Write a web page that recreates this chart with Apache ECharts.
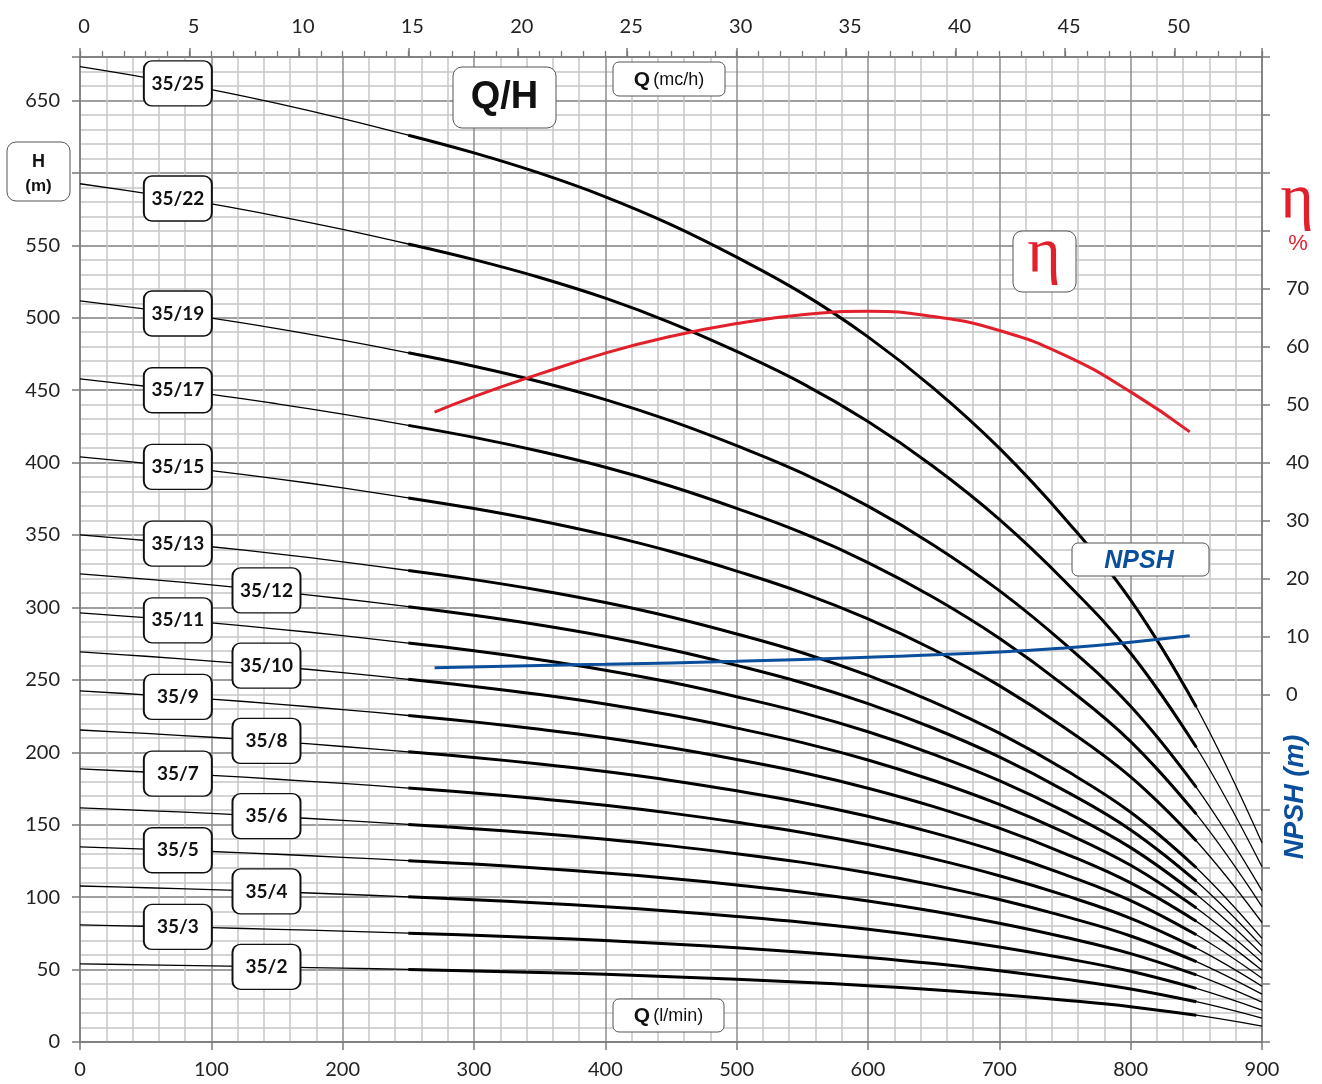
<!DOCTYPE html>
<html><head><meta charset="utf-8">
<script src="https://cdn.jsdelivr.net/npm/echarts@6/dist/echarts.min.js"></script>
<style>html,body{margin:0;padding:0;background:#fff}#c{width:1322px;height:1084px}</style>
</head><body><div id="c"></div>
<script>
// ---- data ----
const flowLpm = [0,50,100,150,200,250,300,350,400,450,500,550,600,650,700,750,800,850,900];
const head_35_2  = [53.9,53.3,52.6,51.8,51.0,50.1,49.1,48.0,46.7,45.1,43.3,41.3,38.9,36.1,32.8,28.9,24.4,18.5,11.0];
const head_35_3  = [80.8,79.9,78.9,77.8,76.5,75.1,73.7,72.0,70.0,67.7,65.0,62.0,58.4,54.2,49.2,43.4,36.6,27.8,16.5];
const head_35_4  = [107.7,106.5,105.2,103.7,102.0,100.2,98.2,96.0,93.4,90.3,86.7,82.7,77.9,72.2,65.6,57.8,48.8,37.0,22.0];
const head_35_5  = [134.7,133.2,131.5,129.6,127.5,125.2,122.8,120.0,116.7,112.9,108.4,103.4,97.4,90.3,82.0,72.3,61.0,46.3,27.5];
const head_35_6  = [161.6,159.8,157.8,155.5,153.0,150.2,147.3,143.9,140.0,135.4,130.0,124.0,116.8,108.3,98.4,86.7,73.2,55.5,33.0];
const head_35_7  = [188.5,186.4,184.1,181.4,178.5,175.3,171.9,167.9,163.4,158.0,151.7,144.7,136.3,126.4,114.8,101.2,85.4,64.8,38.5];
const head_35_8  = [215.4,213.0,210.4,207.4,204.0,200.3,196.4,191.9,186.7,180.6,173.4,165.4,155.8,144.4,131.2,115.6,97.6,74.0,44.0];
const head_35_9  = [242.4,239.7,236.7,233.3,229.5,225.4,221.0,215.9,210.1,203.1,195.0,186.0,175.2,162.5,147.6,130.1,109.8,83.3,49.5];
const head_35_10 = [269.3,266.3,263.0,259.2,255.0,250.4,245.5,239.9,233.4,225.7,216.7,206.7,194.7,180.5,164.0,144.5,122.0,92.5,55.0];
const head_35_11 = [296.2,292.9,289.3,285.1,280.5,275.4,270.1,263.9,256.7,248.3,238.4,227.4,214.2,198.6,180.4,159.0,134.2,101.8,60.5];
const head_35_12 = [323.2,319.6,315.6,311.0,306.0,300.5,294.6,287.9,280.1,270.8,260.0,248.0,233.6,216.6,196.8,173.4,146.4,111.0,66.0];
const head_35_13 = [350.1,346.2,341.9,337.0,331.5,325.5,319.2,311.9,303.4,293.4,281.7,268.7,253.1,234.7,213.2,187.9,158.6,120.3,71.5];
const head_35_15 = [404.0,399.5,394.5,388.8,382.5,375.6,368.3,359.9,350.1,338.6,325.1,310.1,292.1,270.8,246.0,216.8,183.0,138.8,82.5];
const head_35_17 = [457.8,452.7,447.1,440.6,433.5,425.7,417.4,407.8,396.8,383.7,368.4,351.4,331.0,306.9,278.8,245.7,207.4,157.3,93.5];
const head_35_19 = [511.7,506.0,499.7,492.5,484.5,475.8,466.5,455.8,443.5,428.8,411.7,392.7,369.9,343.0,311.6,274.6,231.8,175.8,104.5];
const head_35_22 = [592.5,585.9,578.6,570.2,561.0,550.9,540.1,527.8,513.5,496.5,476.7,454.7,428.3,397.1,360.8,317.9,268.4,203.5,121.0];
const head_35_25 = [673.3,665.8,657.5,648.0,637.5,626.0,613.8,599.8,583.5,564.3,541.8,516.8,486.8,451.3,410.0,361.3,305.0,231.3,137.5];

const curveNames = ['35/25','35/22','35/19','35/17','35/15','35/13','35/12','35/11','35/10','35/9','35/8','35/7','35/6','35/5','35/4','35/3','35/2'];
const curveHeads = [head_35_25,head_35_22,head_35_19,head_35_17,head_35_15,head_35_13,head_35_12,head_35_11,head_35_10,head_35_9,head_35_8,head_35_7,head_35_6,head_35_5,head_35_4,head_35_3,head_35_2];
const labelFlow  = [74.5,74.5,74.5,74.5,74.5,74.5,142,74.5,142,74.5,142,74.5,142,74.5,142,74.5,142];

const etaFlow = [270,300,350,400,450,500,550,600,650,700,750,800,845];
const etaPct  = [48.7,51.4,55.3,58.9,61.8,64.0,65.5,66.1,65.2,62.8,58.5,52.2,45.3];
const npshFlow = [270,350,400,500,600,700,750,800,845];
const npshM    = [4.6,5.0,5.2,5.7,6.4,7.3,8.0,9.0,10.1];

const bottomTickLabels = [0,100,200,300,400,500,600,700,800,900];
const etaTickLabels = [0,10,20,30,40,50,60,70];

// ---- styling ----
const FONT = 'Lato, "Noto Sans", sans-serif';
const SANS = '"Liberation Sans", Arial, sans-serif';
const RED = '#e2202c', BLUE = '#0b4f9c';
const AX = '#7a7a7a', DARK = '#8e8e8e', LIGHT = '#c6c6c6';
const boxPath = 'path://M8,0 H60 A8,8 0 0 1 68,8 V37 A8,8 0 0 1 60,45 H8 A8,8 0 0 1 0,37 V8 A8,8 0 0 1 8,0 Z';

function headAt(arr, q) {
  for (let i = 1; i < flowLpm.length; i++) {
    if (q <= flowLpm[i]) {
      const t = (q - flowLpm[i-1]) / (flowLpm[i] - flowLpm[i-1]);
      return arr[i-1] + t * (arr[i] - arr[i-1]);
    }
  }
  return arr[arr.length-1];
}

const series = [];
curveNames.forEach((name, k) => {
  const h = curveHeads[k];
  const pts = flowLpm.map((q, i) => [q, h[i]]);
  series.push({
    type: 'line', name: name + ' thin', data: pts, xAxisIndex: 0, yAxisIndex: 0,
    symbol: 'none', smooth: 0.4, silent: true, z: 3,
    lineStyle: { color: '#000', width: 1.3 },
    markPoint: {
      symbol: boxPath, symbolSize: [68, 45], silent: true, z: 8,
      itemStyle: { color: '#fff', borderColor: '#111', borderWidth: 1.6 },
      label: { show: true, position: 'inside', formatter: '{b}', fontFamily: FONT,
               fontSize: 19, fontWeight: 'bold', color: '#111' },
      data: [{ name: name, coord: [labelFlow[k], headAt(h, labelFlow[k])] }]
    }
  });
  series.push({
    type: 'line', name: name, data: pts.filter(p => p[0] >= 250 && p[0] <= 850),
    xAxisIndex: 0, yAxisIndex: 0, symbol: 'none', smooth: 0.4, silent: true, z: 4,
    lineStyle: { color: '#000', width: 3 }
  });
});
series.push({
  type: 'line', name: 'eta', data: etaFlow.map((q, i) => [q, etaPct[i]]),
  xAxisIndex: 0, yAxisIndex: 1, symbol: 'none', smooth: 0.5, silent: true, z: 6,
  lineStyle: { color: RED, width: 3 }
});
series.push({
  type: 'line', name: 'npsh', data: npshFlow.map((q, i) => [q, npshM[i]]),
  xAxisIndex: 0, yAxisIndex: 1, symbol: 'none', smooth: 0.5, silent: true, z: 6,
  lineStyle: { color: BLUE, width: 3 }
});

function rrect(x, y, w, h, r, stroke) {
  return { type: 'rect', z: 100, shape: { x, y, width: w, height: h, r },
           style: { fill: '#fff', stroke: stroke || '#555', lineWidth: 1 } };
}
function txt(x, y, text, font, fill, extra) {
  return Object.assign({ type: 'text', z: 101, x, y,
    style: { text, font, fill: fill || '#111', align: 'center', verticalAlign: 'middle' } }, extra || {});
}

const option = {
  animation: false,
  backgroundColor: '#fff',
  textStyle: { fontFamily: FONT },
  grid: { left: 80, right: 60, top: 57, bottom: 42, containLabel: false },
  xAxis: [
    { type: 'value', position: 'bottom', min: 0, max: 900, interval: 100, z: 1,
      axisLine: { show: true, onZero: false, lineStyle: { color: AX, width: 1.5 } },
      axisTick: { show: true, length: 8, lineStyle: { color: AX, width: 1.5 } },
      axisLabel: { show: true, margin: 18, fontSize: 20, color: '#222', fontFamily: FONT,
                   formatter: v => bottomTickLabels.indexOf(v) >= 0 ? String(v) : '' },
      splitLine: { show: true, lineStyle: { color: DARK, width: 1.5 } },
      minorTick: { show: false, splitNumber: 5 },
      minorSplitLine: { show: true, lineStyle: { color: LIGHT, width: 1.5 } } },
    { type: 'value', position: 'top', min: 0, max: 54, interval: 1, z: 1,
      axisLine: { show: true, onZero: false, lineStyle: { color: AX, width: 1.5 } },
      axisTick: { show: true, length: 6, lineStyle: { color: AX, width: 1.3 } },
      axisLabel: { show: false }, splitLine: { show: false } },
    { type: 'value', position: 'top', min: 0, max: 54, interval: 5, z: 1,
      axisLine: { show: false, onZero: false },
      axisTick: { show: true, length: 9, lineStyle: { color: AX, width: 1.5 } },
      axisLabel: { show: true, margin: 20, fontSize: 20, color: '#222', fontFamily: FONT,
                   padding: [0, 0, 0, 8],
                   formatter: v => v <= 50 ? String(v) : '' },
      splitLine: { show: false } }
  ],
  yAxis: [
    { type: 'value', position: 'left', min: 0, max: 680, interval: 50, z: 1,
      axisLine: { show: true, onZero: false, lineStyle: { color: AX, width: 1.5 } },
      axisTick: { show: true, length: 8, lineStyle: { color: AX, width: 1.5 } },
      axisLabel: { show: true, margin: 20, fontSize: 20, color: '#222', fontFamily: FONT,
                   formatter: v => v <= 650 ? String(v) : '' },
      splitLine: { show: true, lineStyle: { color: DARK, width: 1.5 } } },
    { type: 'value', position: 'right', min: -60, max: 110, interval: 10, z: 1,
      axisLine: { show: true, onZero: false, lineStyle: { color: AX, width: 1.5 } },
      axisTick: { show: true, length: 8, lineStyle: { color: AX, width: 1.5 } },
      axisLabel: { show: true, margin: 24, fontSize: 20, color: '#222', fontFamily: FONT,
                   formatter: v => etaTickLabels.indexOf(v) >= 0 ? String(v) : '' },
      splitLine: { show: false } },
    { type: 'value', position: 'left', min: 0, max: 680, interval: 10, z: 0,
      axisLine: { show: false, onZero: false }, axisTick: { show: false }, axisLabel: { show: false },
      splitLine: { show: true, lineStyle: { color: LIGHT, width: 1.5 } } }
  ],
  series: series,
  graphic: [
    rrect(453, 67, 103, 61, 9),
    txt(504.5, 98, 'Q/H', 'bold 38px ' + SANS, '#111'),
    rrect(613, 62, 112, 34, 6),
    { type: 'text', z: 101, x: 669, y: 80,
      style: { text: '{b|Q} {n|(mc/h)}', fill: '#111', align: 'center', verticalAlign: 'middle',
               rich: { b: { fontFamily: SANS, fontWeight: 'bold', fontSize: 21, fill: '#111' },
                       n: { fontFamily: SANS, fontSize: 18, fill: '#111' } } } },
    rrect(613, 999, 111, 33, 6),
    { type: 'text', z: 101, x: 668.5, y: 1016,
      style: { text: '{b|Q} {n|(l/min)}', fill: '#111', align: 'center', verticalAlign: 'middle',
               rich: { b: { fontFamily: SANS, fontWeight: 'bold', fontSize: 21, fill: '#111' },
                       n: { fontFamily: SANS, fontSize: 18, fill: '#111' } } } },
    rrect(7, 142, 63, 59, 9),
    txt(38.5, 162, 'H', 'bold 18px ' + SANS, '#111'),
    txt(38.5, 186, '(m)', 'bold 17px ' + SANS, '#111'),
    rrect(1013, 231, 63, 61, 9),
    txt(1044, 254, 'η', '64px "Liberation Serif", "DejaVu Serif", serif', RED),
    txt(1297, 200, 'η', '64px "Liberation Serif", "DejaVu Serif", serif', RED),
    txt(1298, 244, '%', '22px ' + SANS, RED),
    rrect(1072, 543, 137, 33, 6),
    txt(1139, 561, 'NPSH', 'italic bold 25px ' + SANS, BLUE),
    txt(1296, 797, 'NPSH (m)', 'italic bold 27px ' + SANS, BLUE, { rotation: Math.PI / 2 })
  ]
};

const chart = echarts.init(document.getElementById('c'), null, { renderer: 'canvas' });
chart.setOption(option);
</script>
</body></html>
